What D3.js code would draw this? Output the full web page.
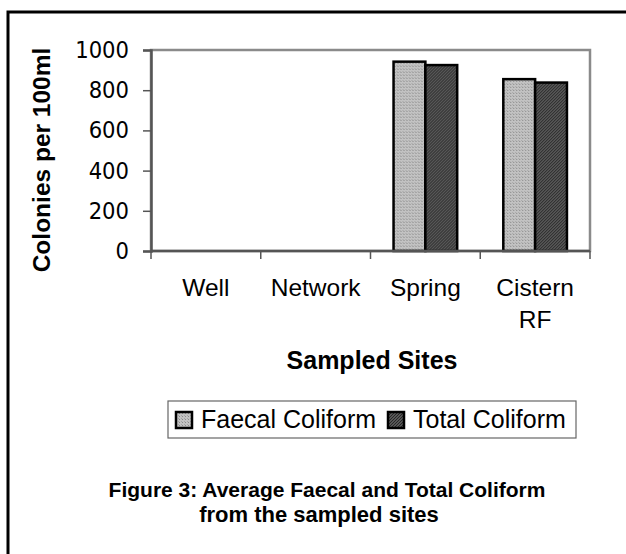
<!DOCTYPE html>
<html>
<head>
<meta charset="utf-8">
<script src="https://cdn.jsdelivr.net/npm/d3@7.9.0/dist/d3.min.js"></script>
<style>
  html, body { margin: 0; padding: 0; background: #fff; }
  svg { display: block; }
</style>
</head>
<body>
<div id="chart"></div>
<script>
// --- data ---
const sites = ['Well', 'Network', 'Spring', 'Cistern RF'];
const series = ['Faecal Coliform', 'Total Coliform'];
const faecal = [0, 0, 942, 855];
const total = [0, 0, 925, 838];
const yTicks = [0, 200, 400, 600, 800, 1000];

const width = 626;
const height = 554;
const sans = '"Liberation Sans", Arial, sans-serif';

const svg = d3.select('#chart')
  .append('svg')
  .attr('width', width)
  .attr('height', height);

// textures that mimic the scanned halftone fills
const defs = svg.append('defs');
const light = defs.append('pattern')
  .attr('id', 'pat-faecal')
  .attr('width', 3).attr('height', 3)
  .attr('patternUnits', 'userSpaceOnUse');
light.append('rect').attr('width', 3).attr('height', 3).attr('fill', '#c2c2c2');
light.append('rect').attr('width', 1).attr('height', 1).attr('fill', '#8a8a8a');
light.append('rect').attr('x', 2).attr('y', 2).attr('width', 1).attr('height', 1).attr('fill', '#a4a4a4');

const dark = defs.append('pattern')
  .attr('id', 'pat-total')
  .attr('width', 3).attr('height', 3)
  .attr('patternUnits', 'userSpaceOnUse');
dark.append('rect').attr('width', 3).attr('height', 3).attr('fill', '#575757');
dark.append('path').attr('d', 'M0,3 L3,0').attr('stroke', '#262626').attr('stroke-width', 1);

const fills = { 'Faecal Coliform': 'url(#pat-faecal)', 'Total Coliform': 'url(#pat-total)' };

// page frame (top and left rules)
svg.append('path')
  .attr('d', `M8,${height} L8,12 L${width},12`)
  .attr('fill', 'none')
  .attr('stroke', '#000')
  .attr('stroke-width', 3);

const plot = { left: 151, right: 590, top: 50, bottom: 251 };

const x0 = d3.scaleBand()
  .domain(sites)
  .range([plot.left, plot.right])
  .padding(0);

const x1 = d3.scaleBand()
  .domain(series)
  .range([x0.bandwidth() * 0.21, x0.bandwidth() * 0.79])
  .padding(0);

const y = d3.scaleLinear()
  .domain([0, 1000])
  .range([plot.bottom, plot.top]);

// plot area outline (grey, like the Excel plot frame)
svg.append('rect')
  .attr('x', plot.left)
  .attr('y', plot.top)
  .attr('width', plot.right - plot.left)
  .attr('height', plot.bottom - plot.top)
  .attr('fill', 'none')
  .attr('stroke', '#8a8a8a')
  .attr('stroke-width', 2.5);

// bars
const rows = sites.map((s, i) => ({ site: s, values: [faecal[i], total[i]] }));
svg.append('g')
  .selectAll('g')
  .data(rows)
  .join('g')
  .attr('transform', (d) => `translate(${x0(d.site)},0)`)
  .selectAll('rect')
  .data((d) => d.values.map((v, j) => ({ key: series[j], value: v })).filter((d) => d.value > 0))
  .join('rect')
  .attr('x', (d) => x1(d.key))
  .attr('y', (d) => y(d.value))
  .attr('width', x1.bandwidth())
  .attr('height', (d) => y(0) - y(d.value))
  .attr('fill', (d) => fills[d.key])
  .attr('stroke', '#000')
  .attr('stroke-width', 2.5);

// y axis
const yAxis = svg.append('g')
  .attr('transform', `translate(${plot.left},0)`)
  .call(d3.axisLeft(y).tickValues(yTicks).tickFormat(d3.format('d')).tickSize(8).tickPadding(14));
yAxis.select('.domain').attr('stroke', '#555').attr('stroke-width', 2.5);
yAxis.selectAll('.tick line').attr('stroke', '#555').attr('stroke-width', 1.5);
yAxis.selectAll('.tick text')
  .attr('fill', '#000')
  .style('font-family', '"DejaVu Sans Condensed", "DejaVu Sans", sans-serif')
  .style('font-stretch', 'condensed')
  .style('font-size', '23.5px');

// x axis: category tick marks at band edges
const xAxis = svg.append('g')
  .attr('transform', `translate(0,${plot.bottom})`);
xAxis.append('line')
  .attr('x1', plot.left).attr('x2', plot.right)
  .attr('stroke', '#555').attr('stroke-width', 2.5);
xAxis.selectAll('line.tick')
  .data(sites.map((s) => x0(s)).concat([plot.right]))
  .join('line')
  .attr('class', 'tick')
  .attr('x1', (d) => d).attr('x2', (d) => d)
  .attr('y1', 0).attr('y2', 8)
  .attr('stroke', '#555').attr('stroke-width', 1.5);

xAxis.selectAll('text')
  .data(sites)
  .join('text')
  .attr('x', (d) => x0(d) + x0.bandwidth() / 2)
  .attr('y', 45)
  .attr('text-anchor', 'middle')
  .style('font-family', sans)
  .style('font-size', '24.5px')
  .each(function (d) {
    const t = d3.select(this);
    d.split(' ').forEach((w, i) => {
      t.append('tspan')
        .attr('x', x0(d) + x0.bandwidth() / 2)
        .attr('dy', i === 0 ? 0 : 32)
        .text(w);
    });
  });

// axis titles
svg.append('text')
  .attr('x', 372)
  .attr('y', 369)
  .attr('text-anchor', 'middle')
  .style('font-family', sans)
  .style('font-weight', 'bold')
  .style('font-size', '25px')
  .text('Sampled Sites');

svg.append('text')
  .attr('transform', 'translate(50,160) rotate(-90)')
  .attr('text-anchor', 'middle')
  .style('font-family', sans)
  .style('font-weight', 'bold')
  .style('font-size', '24.5px')
  .text('Colonies per 100ml');

// legend
const legend = svg.append('g').attr('transform', 'translate(168,401)');
legend.append('rect')
  .attr('width', 408)
  .attr('height', 37)
  .attr('fill', '#fff')
  .attr('stroke', '#666')
  .attr('stroke-width', 1.2);

const legendX = [8, 220];
const items = legend.selectAll('g.item')
  .data(series)
  .join('g')
  .attr('class', 'item')
  .attr('transform', (d, i) => `translate(${legendX[i]},0)`);
items.append('rect')
  .attr('x', 0).attr('y', 11)
  .attr('width', 16).attr('height', 16)
  .attr('fill', (d) => fills[d])
  .attr('stroke', '#000')
  .attr('stroke-width', 2.5);
items.append('text')
  .attr('x', 25)
  .attr('y', 27)
  .style('font-family', sans)
  .style('font-size', '25px')
  .text((d) => d);

// caption
const caption = ['Figure 3: Average Faecal and Total Coliform', 'from the sampled sites'];
const captionSize = [21, 22];
const captionX = [327, 319];
svg.selectAll('text.caption')
  .data(caption)
  .join('text')
  .attr('class', 'caption')
  .attr('x', (d, i) => captionX[i])
  .attr('y', (d, i) => 497 + i * 25)
  .attr('text-anchor', 'middle')
  .style('font-family', sans)
  .style('font-weight', 'bold')
  .style('font-size', (d, i) => captionSize[i] + 'px')
  .text((d) => d);
</script>
</body>
</html>
